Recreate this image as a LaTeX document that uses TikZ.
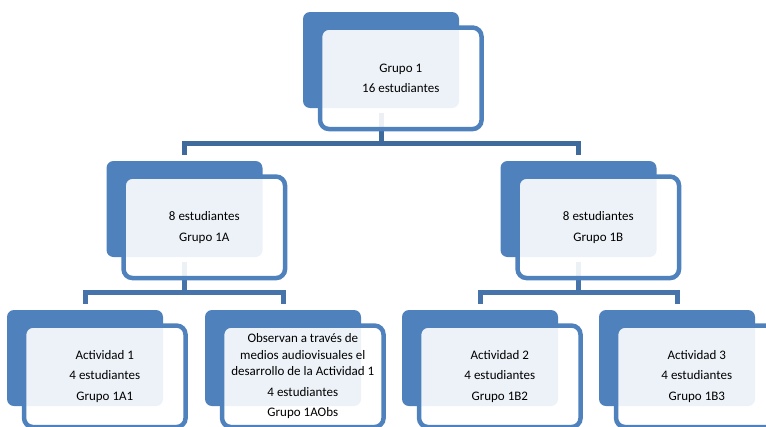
\documentclass[tikz,border=0pt]{standalone}
\usepackage{fontspec}
\setmainfont{Carlito}
\usetikzlibrary{positioning}
\definecolor{boxblue}{HTML}{4F81BD}
\definecolor{linkblue}{HTML}{4673AA}
\definecolor{toplink}{HTML}{3F6A9C}

\begin{document}
\begin{tikzpicture}[x=1pt,y=-1pt,
  backbox/.style={fill=boxblue, rounded corners=7pt, minimum width=156pt, minimum height=96pt, inner sep=0pt},
  frontbox/.style={draw=boxblue, line width=4.5pt, fill=white, fill opacity=0.9, text opacity=1,
    rounded corners=9pt, minimum width=161.5pt, minimum height=101.5pt, inner sep=0pt,
    align=center, font=\fontsize{13}{16.5}\selectfont},
  linkline/.style={draw=linkblue, line width=5pt}]
       \useasboundingbox (0,0) rectangle (766,426);
       % back plates
       \node[backbox] (g1b)  at (381,60)   {};
       \node[backbox] (g1ab) at (184.5,209) {};
       \node[backbox] (g1bb) at (578.5,209) {};
       \node[backbox] (a1b)  at (85,358)   {};
       \node[backbox] (obsb) at (283,358)  {};
       \node[backbox] (b2b)  at (480,358)  {};
       \node[backbox] (b3b)  at (677,358)  {};
       % bars
       \coordinate (bar1) at (0,143.5);
       \coordinate (bar2) at (0,292);
       \draw[linkline, draw=toplink, shorten <=5pt] (g1b.south) -- (g1b.south |- bar1);
       \draw[linkline, draw=toplink, shorten <=6pt, shorten >=6pt]
         (g1ab.north) -- (g1ab.north |- bar1) -- (g1bb.north |- bar1) -- (g1bb.north);
       \draw[linkline, shorten <=5pt] (g1ab.south) -- (g1ab.south |- bar2);
       \draw[linkline, shorten <=6pt, shorten >=6pt]
         (a1b.north) -- (a1b.north |- bar2) -- (obsb.north |- bar2) -- (obsb.north);
       \draw[linkline, shorten <=5pt] (g1bb.south) -- (g1bb.south |- bar2);
       \draw[linkline, shorten <=6pt, shorten >=6pt]
         (b2b.north) -- (b2b.north |- bar2) -- (b3b.north |- bar2) -- (b3b.north);
       % front frames
       \node[frontbox, below right=13.5pt and 15pt of g1b.north west] (g1)
         {Grupo 1\\[4pt]16 estudiantes};
       \node[frontbox, below right=13.5pt and 15pt of g1ab.north west] (g1a)
         {8 estudiantes\\[4pt]Grupo 1A};
       \node[frontbox, below right=13.5pt and 15pt of g1bb.north west] (g1bx)
         {8 estudiantes\\[4pt]Grupo 1B};
       \node[frontbox, below right=13.5pt and 15pt of a1b.north west] (a1)
         {Actividad 1\\[4pt]4 estudiantes\\[4pt]Grupo 1A1};
       \node[frontbox, below right=13.5pt and 15pt of obsb.north west] (obs)
         {Observan a través de\\medios audiovisuales el\\desarrollo de la Actividad 1\\[4pt]4 estudiantes\\[4pt]Grupo 1AObs};
       \node[frontbox, below right=13.5pt and 15pt of b2b.north west] (b2)
         {Actividad 2\\[4pt]4 estudiantes\\[4pt]Grupo 1B2};
       \node[frontbox, below right=13.5pt and 15pt of b3b.north west] (b3)
         {Actividad 3\\[4pt]4 estudiantes\\[4pt]Grupo 1B3};
\end{tikzpicture}
\end{document}
